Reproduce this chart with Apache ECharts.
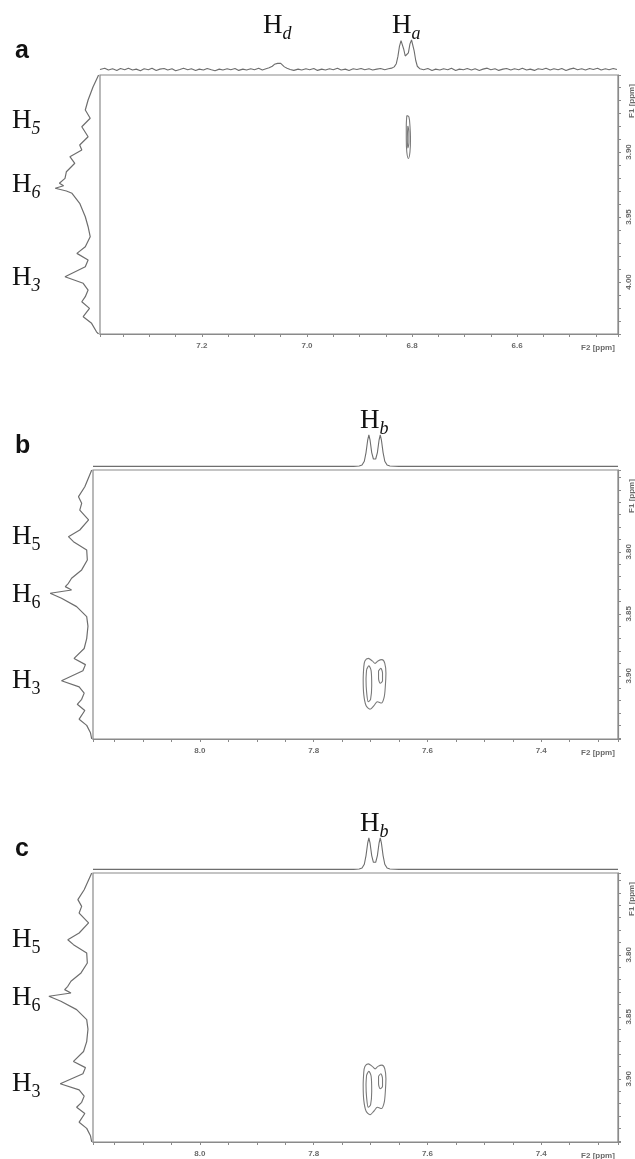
<!DOCTYPE html>
<html><head><meta charset="utf-8">
<script src="https://cdn.jsdelivr.net/npm/echarts@6/dist/echarts.min.js"></script>
<style>html,body{margin:0;padding:0;background:#fff}#c{width:635px;height:1159px}</style>
</head><body><div id="c"></div>
<script>
// ---------- DATA ----------
const xTicksA = [7.2, 7.0, 6.8, 6.6];
const yTicksA = [3.90, 3.95, 4.00];
const xTicksBC = [8.0, 7.8, 7.6, 7.4];
const yTicksBC = [3.80, 3.85, 3.90];

// top projection panel a: [ppm, intensity]
const topA = [
[7.394,0.08],[7.385,0.12],[7.378,0.06],[7.370,0.10],[7.362,0.05],[7.355,0.11],[7.347,0.07],[7.340,0.12],[7.332,0.06],[7.325,0.09],
[7.317,0.04],[7.310,0.10],[7.302,0.07],[7.295,0.12],[7.287,0.05],[7.280,0.09],[7.272,0.11],[7.265,0.06],[7.257,0.10],[7.250,0.04],
[7.242,0.08],[7.235,0.12],[7.227,0.07],[7.220,0.10],[7.212,0.05],[7.205,0.09],[7.197,0.06],[7.190,0.11],[7.182,0.07],[7.175,0.04],
[7.167,0.09],[7.160,0.06],[7.152,0.10],[7.145,0.07],[7.137,0.11],[7.130,0.05],[7.122,0.09],[7.115,0.06],[7.107,0.10],[7.100,0.07],
[7.092,0.12],[7.085,0.06],[7.078,0.10],[7.072,0.13],[7.066,0.18],[7.062,0.24],[7.059,0.20],[7.056,0.27],[7.053,0.33],[7.050,0.27],
[7.047,0.21],[7.043,0.16],[7.038,0.12],[7.032,0.08],[7.025,0.05],[7.017,0.09],[7.010,0.06],[7.002,0.10],[6.995,0.07],[6.987,0.11],
[6.980,0.05],[6.972,0.09],[6.965,0.06],[6.957,0.10],[6.950,0.07],[6.942,0.12],[6.935,0.06],[6.927,0.09],[6.920,0.05],[6.912,0.10],
[6.905,0.08],[6.897,0.11],[6.890,0.07],[6.882,0.10],[6.875,0.06],[6.867,0.09],[6.860,0.11],[6.852,0.07],[6.845,0.10],[6.839,0.12],
[6.834,0.16],[6.830,0.26],[6.827,0.48],[6.824,0.80],[6.821,0.98],[6.819,0.96],[6.816,0.72],[6.813,0.50],[6.810,0.46],[6.807,0.60],
[6.804,0.88],[6.801,1.00],[6.799,0.94],[6.796,0.66],[6.793,0.36],[6.790,0.18],[6.785,0.10],[6.778,0.07],[6.770,0.11],[6.762,0.05],
[6.755,0.09],[6.747,0.06],[6.740,0.10],[6.732,0.07],[6.725,0.12],[6.717,0.05],[6.710,0.09],[6.702,0.07],[6.695,0.11],[6.687,0.06],
[6.680,0.10],[6.672,0.05],[6.665,0.09],[6.657,0.12],[6.650,0.07],[6.642,0.10],[6.635,0.05],[6.627,0.09],[6.620,0.11],[6.612,0.06],
[6.605,0.10],[6.597,0.07],[6.590,0.12],[6.582,0.06],[6.575,0.09],[6.567,0.05],[6.560,0.10],[6.552,0.08],[6.545,0.12],[6.537,0.06],
[6.530,0.10],[6.522,0.07],[6.515,0.11],[6.507,0.05],[6.500,0.09],[6.492,0.12],[6.485,0.07],[6.477,0.10],[6.470,0.06],[6.462,0.11],
[6.455,0.08],[6.447,0.12],[6.440,0.06],[6.432,0.10],[6.425,0.07],[6.417,0.11],[6.410,0.08]
];
// left projection panel a: [intensity, ppm]
const leftA = [
[0.02,3.8408],[0.10,3.850],[0.17,3.860],[0.21,3.8677],[0.14,3.8741],[0.26,3.8806],[0.17,3.8883],[0.29,3.8946],[0.26,3.8985],
[0.43,3.9036],[0.36,3.9087],[0.48,3.9152],[0.50,3.9203],[0.58,3.9240],[0.52,3.9260],[0.64,3.9279],[0.48,3.9300],[0.40,3.9318],
[0.29,3.9395],[0.21,3.9498],[0.17,3.9575],[0.14,3.9652],[0.21,3.9729],[0.33,3.9780],[0.17,3.9831],[0.21,3.9883],[0.50,3.9960],
[0.24,4.0010],[0.17,4.0062],[0.21,4.0113],[0.26,4.0152],[0.15,4.0203],[0.24,4.0267],[0.12,4.0318],[0.05,4.0383],[0.02,4.0400]
];
const contA1 = [[6.810,3.872],[6.806,3.873],[6.804,3.880],[6.803,3.890],[6.804,3.900],[6.807,3.905],[6.810,3.900],[6.811,3.890],[6.811,3.880],[6.810,3.872]];
const contA2 = [[6.808,3.880],[6.806,3.884],[6.806,3.893],[6.808,3.897],[6.809,3.890],[6.808,3.880]];

const topB = [[8.188,0.02],[7.80,0.02],[7.73,0.02],[7.72,0.03],[7.715,0.06],[7.711,0.18],[7.708,0.45],[7.705,0.85],[7.703,1.0],[7.701,0.85],[7.698,0.45],[7.695,0.25],[7.693,0.22],[7.691,0.25],[7.688,0.45],[7.685,0.85],[7.683,1.0],[7.681,0.85],[7.678,0.45],[7.675,0.18],[7.671,0.06],[7.666,0.03],[7.65,0.02],[7.265,0.02]];
const topC = [[8.188,0.02],[7.80,0.02],[7.73,0.02],[7.72,0.03],[7.715,0.06],[7.711,0.18],[7.708,0.45],[7.705,0.85],[7.703,1.0],[7.701,0.85],[7.698,0.45],[7.695,0.24],[7.693,0.21],[7.691,0.24],[7.688,0.45],[7.685,0.85],[7.683,1.0],[7.681,0.85],[7.678,0.45],[7.675,0.18],[7.671,0.06],[7.666,0.03],[7.65,0.02],[7.265,0.02]];
const leftB = [
[0.02,3.734],[0.13,3.7475],[0.23,3.7555],[0.18,3.7609],[0.21,3.7663],[0.07,3.7743],[0.21,3.7824],[0.39,3.7878],[0.31,3.7918],
[0.10,3.7985],[0.09,3.8066],[0.18,3.8146],[0.34,3.8213],[0.39,3.8254],[0.44,3.8281],[0.34,3.8308],[0.68,3.8334],[0.50,3.8375],
[0.26,3.8442],[0.10,3.8523],[0.08,3.8600],[0.10,3.8700],[0.14,3.8780],[0.30,3.8860],[0.12,3.8910],[0.16,3.8960],[0.50,3.9040],
[0.22,3.9090],[0.14,3.9140],[0.18,3.9190],[0.25,3.9230],[0.13,3.9280],[0.22,3.9350],[0.10,3.9400],[0.04,3.9460],[0.02,3.9510]
];
const leftC = [
[0.02,3.734],[0.14,3.7475],[0.24,3.7555],[0.18,3.7609],[0.22,3.7663],[0.07,3.7743],[0.22,3.7824],[0.40,3.7878],[0.31,3.7918],
[0.10,3.7985],[0.09,3.8066],[0.19,3.8146],[0.35,3.8213],[0.40,3.8254],[0.45,3.8281],[0.35,3.8308],[0.70,3.8334],[0.51,3.8375],
[0.26,3.8442],[0.10,3.8523],[0.08,3.8600],[0.10,3.8700],[0.15,3.8780],[0.31,3.8860],[0.12,3.8910],[0.16,3.8960],[0.52,3.9040],
[0.22,3.9090],[0.14,3.9140],[0.18,3.9190],[0.26,3.9230],[0.13,3.9280],[0.22,3.9350],[0.10,3.9400],[0.04,3.9460],[0.02,3.9510]
];
const contB1 = [[7.712,3.893],[7.710,3.888],[7.704,3.886],[7.697,3.888],[7.692,3.890],[7.687,3.888],[7.680,3.887],[7.675,3.890],[7.673,3.898],[7.674,3.908],[7.676,3.917],[7.681,3.922],[7.688,3.921],[7.694,3.924],[7.701,3.927],[7.708,3.924],[7.712,3.915],[7.713,3.903],[7.712,3.893]];
const contB2 = [[7.707,3.895],[7.703,3.892],[7.699,3.896],[7.698,3.908],[7.700,3.919],[7.704,3.921],[7.707,3.913],[7.708,3.903],[7.707,3.895]];
const contB3 = [[7.686,3.896],[7.682,3.894],[7.679,3.898],[7.679,3.904],[7.683,3.906],[7.686,3.902],[7.686,3.896]];
const contC1 = [[7.712,3.895],[7.710,3.890],[7.704,3.888],[7.697,3.890],[7.692,3.892],[7.687,3.890],[7.680,3.889],[7.675,3.892],[7.673,3.900],[7.674,3.910],[7.676,3.919],[7.681,3.924],[7.688,3.923],[7.694,3.926],[7.701,3.929],[7.708,3.926],[7.712,3.917],[7.713,3.905],[7.712,3.895]];
const contC2 = [[7.707,3.897],[7.703,3.894],[7.699,3.898],[7.698,3.910],[7.700,3.921],[7.704,3.923],[7.707,3.915],[7.708,3.905],[7.707,3.897]];
const contC3 = [[7.686,3.898],[7.682,3.896],[7.679,3.900],[7.679,3.906],[7.683,3.908],[7.686,3.904],[7.686,3.898]];

// ---------- LAYOUT ----------
const BOX_R = 618;
const panels = [
  {letter:'a', L:100, T:75,  H:259, xr:[6.408,7.394], yr:[3.8408,4.040], xt:xTicksA,  yt:yTicksA,  top:topA, left:leftA, conts:[contA1,contA2],
   topLabels:[['d',279],['a',408]], sideLabels:[['5',121],['6',185],['3',278]], sideItalic:true},
  {letter:'b', L:93,  T:470, H:269, xr:[7.265,8.188], yr:[3.734,3.951], xt:xTicksBC, yt:yTicksBC, top:topB, left:leftB, conts:[contB1,contB2,contB3],
   topLabels:[['b',376]], sideLabels:[['5',537],['6',595],['3',681]], sideItalic:false},
  {letter:'c', L:93,  T:873, H:269, xr:[7.265,8.188], yr:[3.734,3.951], xt:xTicksBC, yt:yTicksBC, top:topC, left:leftC, conts:[contC1,contC2,contC3],
   topLabels:[['b',376]], sideLabels:[['5',940],['6',998],['3',1084]], sideItalic:false}
];

const grid = [], xAxis = [], yAxis = [], series = [], graphic = [];
const LINE = '#6e6e6e', AX = '#8a8a8a', LAB = '#6a6a6a';
function near(v, arr){ return arr.find(t => Math.abs(t - v) < 1e-6); }

function hLabel(x, y, sub, italic, size){
  graphic.push({type:'text', x:x, y:y, style:{text:'H', font:'normal '+size+'px "Liberation Serif"', fill:'#111', textAlign:'left', textVerticalAlign:'middle', align:'left', verticalAlign:'middle'}});
  graphic.push({type:'text', x:x+size*0.72, y:y+size*0.3, style:{text:sub, font:(italic?'italic ':'normal ')+Math.round(size*0.68)+'px "Liberation Serif"', fill:'#111', textAlign:'left', textVerticalAlign:'middle', align:'left', verticalAlign:'middle'}});
}

panels.forEach((p, i) => {
  const gMain = 3*i, gTop = 3*i+1, gLeft = 3*i+2;
  const W = BOX_R - p.L;
  grid[gMain] = {left:p.L, top:p.T, width:W, height:p.H, show:true, borderColor:AX, borderWidth:1.2, backgroundColor:'transparent'};
  grid[gTop]  = {left:p.L, top:p.T-43, width:W, height:40};
  grid[gLeft] = {left:30, top:p.T, width:p.L-30, height:p.H};

  xAxis[gMain] = {type:'value', gridIndex:gMain, inverse:true, min:p.xr[0], max:p.xr[1], minInterval:0.05, maxInterval:0.05, position:'bottom',
    axisLine:{show:true, lineStyle:{color:AX, width:1.2}}, splitLine:{show:false},
    axisTick:{show:true, inside:false, length:3, lineStyle:{color:AX}},
    axisLabel:{show:true, margin:8, color:LAB, fontSize:8, fontWeight:'bold', fontFamily:'Liberation Sans',
      formatter:v => { const t = near(v, p.xt); return t === undefined ? '' : t.toFixed(1); }}};
  yAxis[gMain] = {type:'value', gridIndex:gMain, inverse:true, min:p.yr[0], max:p.yr[1], minInterval:0.01, maxInterval:0.01, position:'right',
    axisLine:{show:true, lineStyle:{color:AX, width:1.2}}, splitLine:{show:false},
    axisTick:{show:true, inside:false, length:3, lineStyle:{color:AX}},
    axisLabel:{show:true, margin:7, rotate:90, color:LAB, fontSize:8, fontWeight:'bold', fontFamily:'Liberation Sans',
      formatter:v => { const t = near(v, p.yt); return t === undefined ? '' : t.toFixed(2); }}};

  xAxis[gTop] = {type:'value', gridIndex:gTop, inverse:true, min:p.xr[0], max:p.xr[1], show:false};
  yAxis[gTop] = {type:'value', gridIndex:gTop, min:0, max:1.25, show:false};
  xAxis[gLeft] = {type:'value', gridIndex:gLeft, inverse:true, min:0, max:1, show:false};
  yAxis[gLeft] = {type:'value', gridIndex:gLeft, inverse:true, min:p.yr[0], max:p.yr[1], show:false};

  series.push({type:'line', xAxisIndex:gTop, yAxisIndex:gTop, data:p.top, symbol:'none', smooth:false,
    lineStyle:{color:LINE, width:1.1}, silent:true});
  series.push({type:'line', xAxisIndex:gLeft, yAxisIndex:gLeft, data:p.left, symbol:'none', smooth:false,
    lineStyle:{color:LINE, width:1.2}, silent:true});
  p.conts.forEach(c => series.push({type:'line', xAxisIndex:gMain, yAxisIndex:gMain, data:c, symbol:'none', smooth:0.3,
    lineStyle:{color:'#7a7a7a', width:1.1}, silent:true}));

  graphic.push({type:'text', x:15, y:p.T-24, style:{text:p.letter, font:'bold 25px "Liberation Sans"', fill:'#111', textAlign:'left', textVerticalAlign:'middle', align:'left', verticalAlign:'middle'}});
  p.topLabels.forEach(([s, x]) => hLabel(x-16, p.T-49, s, true, 27));
  p.sideLabels.forEach(([s, y]) => hLabel(12, y, s, p.sideItalic, 27));
  graphic.push({type:'text', x:598, y:p.T+p.H+14, style:{text:'F2 [ppm]', font:'bold 8px "Liberation Sans"', fill:LAB, textAlign:'center', textVerticalAlign:'middle', align:'center', verticalAlign:'middle'}});
  graphic.push({type:'text', x:BOX_R+14, y:p.T+26, rotation:Math.PI/2, style:{text:'F1 [ppm]', font:'bold 8px "Liberation Sans"', fill:LAB, textAlign:'center', textVerticalAlign:'middle', align:'center', verticalAlign:'middle'}});
});

const chart = echarts.init(document.getElementById('c'), null, {renderer:'canvas'});
chart.setOption({animation:false, backgroundColor:'#fff', grid, xAxis, yAxis, series, graphic});
</script></body></html>
